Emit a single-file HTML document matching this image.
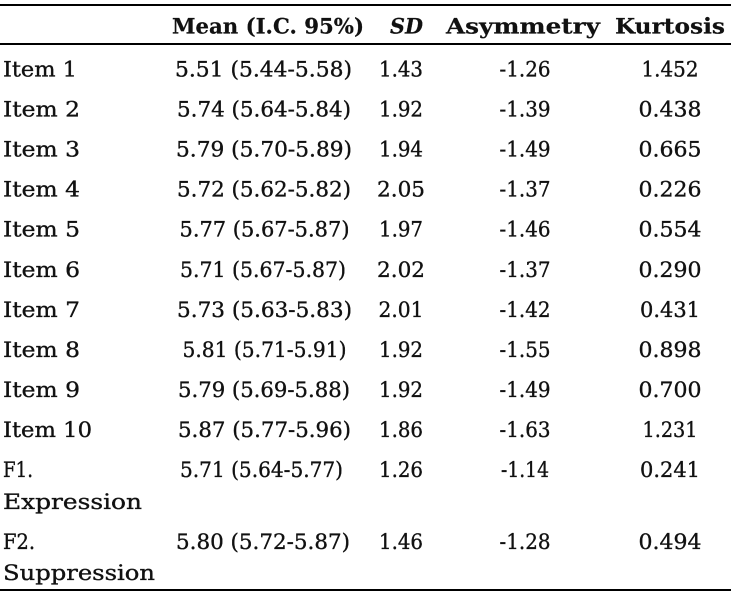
<!DOCTYPE html>
<html>
<head>
<meta charset="utf-8">
<style>
  html, body { margin: 0; padding: 0; background: #ffffff; }
  body { width: 733px; height: 597px; overflow: hidden; }
  svg { display: block; }
  text { font-family: "DejaVu Serif", "Liberation Serif", serif; font-size: 21px; fill: #111111; stroke: #111111; stroke-width: 0.35px; }
  .h { font-weight: bold; stroke-width: 0.2px; }
  .hi { font-weight: bold; font-style: italic; stroke-width: 0.2px; }
</style>
</head>
<body>
<svg width="733" height="597" viewBox="0 0 733 597" xmlns="http://www.w3.org/2000/svg">
  <!-- rules -->
  <rect x="0" y="4" width="731" height="2" fill="#000"/>
  <rect x="0" y="43" width="731" height="2" fill="#000"/>
  <rect x="0" y="589" width="731" height="2" fill="#000"/>

  <!-- header -->
  <text class="h" x="172" y="33.5" textLength="192" lengthAdjust="spacingAndGlyphs">Mean (I.C. 95%)</text>
  <text class="hi" x="390" y="33.5" textLength="33" lengthAdjust="spacingAndGlyphs">SD</text>
  <text class="h" x="446" y="33.5" textLength="154" lengthAdjust="spacingAndGlyphs">Asymmetry</text>
  <text class="h" x="615" y="33.5" textLength="110" lengthAdjust="spacingAndGlyphs">Kurtosis</text>

  <!-- Row 1 -->
  <text x="3" y="76.5" textLength="74" lengthAdjust="spacingAndGlyphs">Item 1</text>
  <text x="263.5" y="76.5" text-anchor="middle" textLength="177" lengthAdjust="spacingAndGlyphs">5.51 (5.44-5.58)</text>
  <text x="401" y="76.5" text-anchor="middle" textLength="44" lengthAdjust="spacingAndGlyphs">1.43</text>
  <text x="525" y="76.5" text-anchor="middle" textLength="51" lengthAdjust="spacingAndGlyphs">-1.26</text>
  <text x="670" y="76.5" text-anchor="middle" textLength="57" lengthAdjust="spacingAndGlyphs">1.452</text>

  <!-- Row 2 -->
  <text x="3" y="116.6" textLength="77" lengthAdjust="spacingAndGlyphs">Item 2</text>
  <text x="264" y="116.6" text-anchor="middle" textLength="174" lengthAdjust="spacingAndGlyphs">5.74 (5.64-5.84)</text>
  <text x="401" y="116.6" text-anchor="middle" textLength="44" lengthAdjust="spacingAndGlyphs">1.92</text>
  <text x="525" y="116.6" text-anchor="middle" textLength="51" lengthAdjust="spacingAndGlyphs">-1.39</text>
  <text x="670" y="116.6" text-anchor="middle" textLength="63" lengthAdjust="spacingAndGlyphs">0.438</text>

  <!-- Row 3 -->
  <text x="3" y="156.6" textLength="77" lengthAdjust="spacingAndGlyphs">Item 3</text>
  <text x="264" y="156.6" text-anchor="middle" textLength="176" lengthAdjust="spacingAndGlyphs">5.79 (5.70-5.89)</text>
  <text x="401" y="156.6" text-anchor="middle" textLength="44" lengthAdjust="spacingAndGlyphs">1.94</text>
  <text x="525" y="156.6" text-anchor="middle" textLength="51" lengthAdjust="spacingAndGlyphs">-1.49</text>
  <text x="670" y="156.6" text-anchor="middle" textLength="63" lengthAdjust="spacingAndGlyphs">0.665</text>

  <!-- Row 4 -->
  <text x="3" y="196.7" textLength="77" lengthAdjust="spacingAndGlyphs">Item 4</text>
  <text x="264" y="196.7" text-anchor="middle" textLength="174" lengthAdjust="spacingAndGlyphs">5.72 (5.62-5.82)</text>
  <text x="401" y="196.7" text-anchor="middle" textLength="48" lengthAdjust="spacingAndGlyphs">2.05</text>
  <text x="525" y="196.7" text-anchor="middle" textLength="51" lengthAdjust="spacingAndGlyphs">-1.37</text>
  <text x="670" y="196.7" text-anchor="middle" textLength="63" lengthAdjust="spacingAndGlyphs">0.226</text>

  <!-- Row 5 -->
  <text x="3" y="236.7" textLength="77" lengthAdjust="spacingAndGlyphs">Item 5</text>
  <text x="264.5" y="236.7" text-anchor="middle" textLength="170" lengthAdjust="spacingAndGlyphs">5.77 (5.67-5.87)</text>
  <text x="401" y="236.7" text-anchor="middle" textLength="44" lengthAdjust="spacingAndGlyphs">1.97</text>
  <text x="525" y="236.7" text-anchor="middle" textLength="51" lengthAdjust="spacingAndGlyphs">-1.46</text>
  <text x="670" y="236.7" text-anchor="middle" textLength="63" lengthAdjust="spacingAndGlyphs">0.554</text>

  <!-- Row 6 -->
  <text x="3" y="276.8" textLength="77" lengthAdjust="spacingAndGlyphs">Item 6</text>
  <text x="263" y="276.8" text-anchor="middle" textLength="166" lengthAdjust="spacingAndGlyphs">5.71 (5.67-5.87)</text>
  <text x="401" y="276.8" text-anchor="middle" textLength="48" lengthAdjust="spacingAndGlyphs">2.02</text>
  <text x="525" y="276.8" text-anchor="middle" textLength="51" lengthAdjust="spacingAndGlyphs">-1.37</text>
  <text x="670" y="276.8" text-anchor="middle" textLength="63" lengthAdjust="spacingAndGlyphs">0.290</text>

  <!-- Row 7 -->
  <text x="3" y="316.9" textLength="77" lengthAdjust="spacingAndGlyphs">Item 7</text>
  <text x="264.5" y="316.9" text-anchor="middle" textLength="175" lengthAdjust="spacingAndGlyphs">5.73 (5.63-5.83)</text>
  <text x="401" y="316.9" text-anchor="middle" textLength="45" lengthAdjust="spacingAndGlyphs">2.01</text>
  <text x="525" y="316.9" text-anchor="middle" textLength="51" lengthAdjust="spacingAndGlyphs">-1.42</text>
  <text x="670" y="316.9" text-anchor="middle" textLength="60" lengthAdjust="spacingAndGlyphs">0.431</text>

  <!-- Row 8 -->
  <text x="3" y="356.9" textLength="77" lengthAdjust="spacingAndGlyphs">Item 8</text>
  <text x="264.5" y="356.9" text-anchor="middle" textLength="164" lengthAdjust="spacingAndGlyphs">5.81 (5.71-5.91)</text>
  <text x="401" y="356.9" text-anchor="middle" textLength="44" lengthAdjust="spacingAndGlyphs">1.92</text>
  <text x="525" y="356.9" text-anchor="middle" textLength="51" lengthAdjust="spacingAndGlyphs">-1.55</text>
  <text x="670" y="356.9" text-anchor="middle" textLength="63" lengthAdjust="spacingAndGlyphs">0.898</text>

  <!-- Row 9 -->
  <text x="3" y="397" textLength="77" lengthAdjust="spacingAndGlyphs">Item 9</text>
  <text x="264" y="397" text-anchor="middle" textLength="172" lengthAdjust="spacingAndGlyphs">5.79 (5.69-5.88)</text>
  <text x="401" y="397" text-anchor="middle" textLength="44" lengthAdjust="spacingAndGlyphs">1.92</text>
  <text x="525" y="397" text-anchor="middle" textLength="51" lengthAdjust="spacingAndGlyphs">-1.49</text>
  <text x="670" y="397" text-anchor="middle" textLength="63" lengthAdjust="spacingAndGlyphs">0.700</text>

  <!-- Row 10 -->
  <text x="3" y="437" textLength="89" lengthAdjust="spacingAndGlyphs">Item 10</text>
  <text x="264.5" y="437" text-anchor="middle" textLength="173" lengthAdjust="spacingAndGlyphs">5.87 (5.77-5.96)</text>
  <text x="401" y="437" text-anchor="middle" textLength="44" lengthAdjust="spacingAndGlyphs">1.86</text>
  <text x="525" y="437" text-anchor="middle" textLength="51" lengthAdjust="spacingAndGlyphs">-1.63</text>
  <text x="670" y="437" text-anchor="middle" textLength="55" lengthAdjust="spacingAndGlyphs">1.231</text>

  <!-- F1 -->
  <text x="3" y="477" textLength="30" lengthAdjust="spacingAndGlyphs">F1.</text>
  <text x="3" y="509" textLength="139" lengthAdjust="spacingAndGlyphs">Expression</text>
  <text x="261.5" y="477" text-anchor="middle" textLength="163" lengthAdjust="spacingAndGlyphs">5.71 (5.64-5.77)</text>
  <text x="401" y="477" text-anchor="middle" textLength="44" lengthAdjust="spacingAndGlyphs">1.26</text>
  <text x="525" y="477" text-anchor="middle" textLength="48" lengthAdjust="spacingAndGlyphs">-1.14</text>
  <text x="670" y="477" text-anchor="middle" textLength="60" lengthAdjust="spacingAndGlyphs">0.241</text>

  <!-- F2 -->
  <text x="3" y="549" textLength="32" lengthAdjust="spacingAndGlyphs">F2.</text>
  <text x="3" y="580" textLength="152" lengthAdjust="spacingAndGlyphs">Suppression</text>
  <text x="263" y="549" text-anchor="middle" textLength="174" lengthAdjust="spacingAndGlyphs">5.80 (5.72-5.87)</text>
  <text x="401" y="549" text-anchor="middle" textLength="44" lengthAdjust="spacingAndGlyphs">1.46</text>
  <text x="525" y="549" text-anchor="middle" textLength="51" lengthAdjust="spacingAndGlyphs">-1.28</text>
  <text x="670" y="549" text-anchor="middle" textLength="63" lengthAdjust="spacingAndGlyphs">0.494</text>
</svg>
</body>
</html>
